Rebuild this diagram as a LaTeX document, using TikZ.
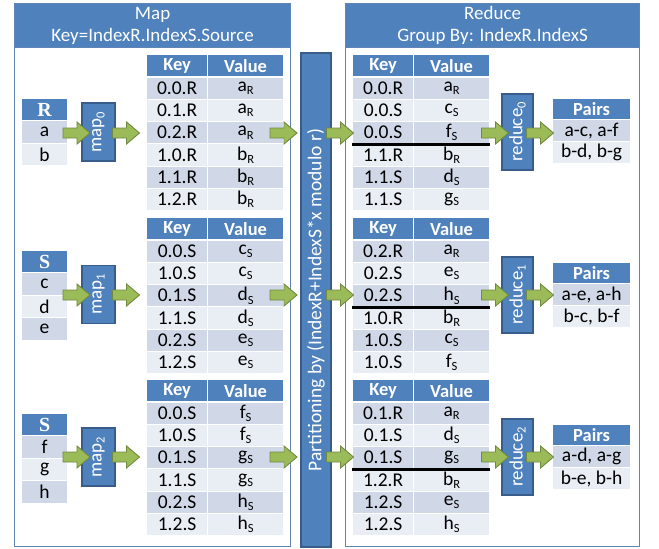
\documentclass[tikz,border=0pt]{standalone}
\usepackage{fontspec}
\setmainfont{Carlito}
\newfontfamily\hdrserif{Liberation Serif}
\definecolor{hblue}{HTML}{4F81BD}
\definecolor{bblue}{HTML}{385D8A}
\definecolor{rowA}{HTML}{D0D8E8}
\definecolor{rowB}{HTML}{E9EDF4}
\definecolor{gfill}{HTML}{9BBB59}
\definecolor{gline}{HTML}{71893F}
\definecolor{pline}{HTML}{5F84B5}
\newcommand\lsub[1]{\raisebox{-0.35ex}{\fontsize{12.5}{12.5}\selectfont #1}}
\tikzset{
  cell/.style={draw=white, line width=1.2pt, inner sep=0pt, anchor=north west,
    font=\fontsize{19.5}{21}\selectfont, text=black},
  hcell/.style={cell, fill=hblue, text=white, font=\fontsize{18.5}{20}\selectfont\bfseries},
  shcell/.style={cell, fill=hblue, text=white, font=\hdrserif\bfseries\fontsize{20}{22}\selectfont},
  procbox/.style={draw=bblue, line width=1.2pt, fill=hblue, text=white, inner sep=0pt,
    font=\fontsize{19}{20}\selectfont},
  garrowsty/.style={draw=gline, fill=gfill, line width=0.9pt, line join=miter},
  panel/.style={draw=pline, line width=1.2pt, fill=white, inner sep=0pt, anchor=north west},
  phead/.style={panel, fill=hblue, text=white, align=center, font=\fontsize{19}{22}\selectfont},
  sepline/.style={line width=2.5pt, black}
}
% block arrow: name, x centre, y centre
\newcommand\garrowat[3]{%
  \coordinate (#1) at (#2,#3);
  \draw[garrowsty] (#1) ++(-13.5,-5) -- ++(14,0) -- ++(0,-6) -- ++(13,11)
    -- ++(-13,11) -- ++(0,-6) -- ++(-14,0) -- cycle;
}
\newcommand\kvtab[4]{%
  \node[hcell, minimum width=61pt, minimum height=22.3pt] (#1-hk) at (#2,#3) {Key};
  \node[hcell, minimum width=76pt, minimum height=22.3pt] (#1-hv) at (#2+61,#3) {Value};
  \foreach \k/\v/\s [count=\i] in {#4}{
    \ifodd\i \def\rowc{rowA}\else\def\rowc{rowB}\fi
    \node[cell, fill=\rowc, minimum width=61pt, minimum height=22.3pt] (#1-k\i) at (#2,#3+22.3*\i) {\k};
    \node[cell, fill=\rowc, minimum width=76pt, minimum height=22.3pt] (#1-v\i) at (#2+61,#3+22.3*\i) {\v\lsub{\s}};
  }
}
\newcommand\intab[4]{% name, header, ytop, rows
  \node[shcell, minimum width=46pt, minimum height=22pt] (#1-h) at (21,#3) {#2};
  \foreach \t [count=\i] in {#4}{
    \ifodd\i \def\rowc{rowA}\else\def\rowc{rowB}\fi
    \node[cell, fill=\rowc, minimum width=46pt, minimum height=22.5pt] (#1-r\i) at (21,#3+22+22.5*\i-22.5) {\t};
  }
}
\newcommand\pairtab[4]{% name, ytop, row1, row2
  \node[hcell, minimum width=78pt, minimum height=21pt] (#1-h) at (552,#2) {Pairs};
  \node[cell, fill=rowA, minimum width=78pt, minimum height=22pt] (#1-r1) at (552,#2+21) {#3};
  \node[cell, fill=rowB, minimum width=78pt, minimum height=22pt] (#1-r2) at (552,#2+43) {#4};
}
\begin{document}
\begin{tikzpicture}[x=1pt, y=-1pt]
\useasboundingbox (0,0) rectangle (659,549);
% panels
\node[panel, minimum width=276pt, minimum height=543pt] (mappanel) at (14,3) {};
\node[phead, minimum width=276pt, minimum height=44pt] (maphead) at (14,3) {Map\\Key=IndexR.IndexS.Source};
\node[panel, minimum width=294pt, minimum height=543pt] (redpanel) at (345,3) {};
\node[phead, minimum width=294pt, minimum height=44pt] (redhead) at (345,3) {Reduce\\Group By: IndexR.IndexS};
% partition bar
\node[procbox, rotate=90, minimum width=494pt, minimum height=30pt, font=\fontsize{19.5}{20}\selectfont] (part) at (316,300) {Partitioning by (IndexR+IndexS*x modulo r)};
% input tables
\intab{R}{R}{98}{a,b}
\intab{S1}{S}{250}{c,d,e}
\intab{S2}{S}{413}{f,g,h}
% map boxes
\node[procbox, rotate=90, minimum width=58pt, minimum height=33pt] (map0) at (98.5,132) {map\lsub{0}};
\node[procbox, rotate=90, minimum width=58pt, minimum height=33pt] (map1) at (98.5,294.5) {map\lsub{1}};
\node[procbox, rotate=90, minimum width=58pt, minimum height=33pt] (map2) at (98.5,457) {map\lsub{2}};
% map output tables
\kvtab{mt0}{146}{54}{0.0.R/a/R,0.1.R/a/R,0.2.R/a/R,1.0.R/b/R,1.1.R/b/R,1.2.R/b/R}
\kvtab{mt1}{146}{217}{0.0.S/c/S,1.0.S/c/S,0.1.S/d/S,1.1.S/d/S,0.2.S/e/S,1.2.S/e/S}
\kvtab{mt2}{146}{379}{0.0.S/f/S,1.0.S/f/S,0.1.S/g/S,1.1.S/g/S,0.2.S/h/S,1.2.S/h/S}
% reduce input tables
\kvtab{rt0}{352}{54}{0.0.R/a/R,0.0.S/c/S,0.0.S/f/S,1.1.R/b/R,1.1.S/d/S,1.1.S/g/S}
\kvtab{rt1}{352}{217}{0.2.R/a/R,0.2.S/e/S,0.2.S/h/S,1.0.R/b/R,1.0.S/c/S,1.0.S/f/S}
\kvtab{rt2}{352}{379}{0.1.R/a/R,0.1.S/d/S,0.1.S/g/S,1.2.R/b/R,1.2.S/e/S,1.2.S/h/S}
\draw[sepline] (rt0-k3.south west) -- (rt0-v3.south east);
\draw[sepline] (rt1-k3.south west) -- (rt1-v3.south east);
\draw[sepline] (rt2-k3.south west) -- (rt2-v3.south east);
% reduce boxes
\node[procbox, rotate=90, minimum width=76pt, minimum height=31pt] (red0) at (517.5,132) {reduce\lsub{0}};
\node[procbox, rotate=90, minimum width=76pt, minimum height=31pt] (red1) at (517.5,295) {reduce\lsub{1}};
\node[procbox, rotate=90, minimum width=76pt, minimum height=31pt] (red2) at (517.5,457) {reduce\lsub{2}};
% pairs
\pairtab{p0}{98}{a-c, a-f}{b-d, b-g}
\pairtab{p1}{262}{a-e, a-h}{b-c, b-f}
\pairtab{p2}{424}{a-d, a-g}{b-e, b-h}
% arrows
\foreach \y [count=\j] in {133,295,457}{
  \garrowat{ain\j}{76.5}{\y}
  \garrowat{amap\j}{126}{\y}
  \garrowat{apart\j}{283.5}{\y}
  \garrowat{ared\j}{340}{\y}
  \garrowat{arbox\j}{495}{\y}
  \garrowat{apair\j}{540}{\y}
}
\end{tikzpicture}
\end{document}
